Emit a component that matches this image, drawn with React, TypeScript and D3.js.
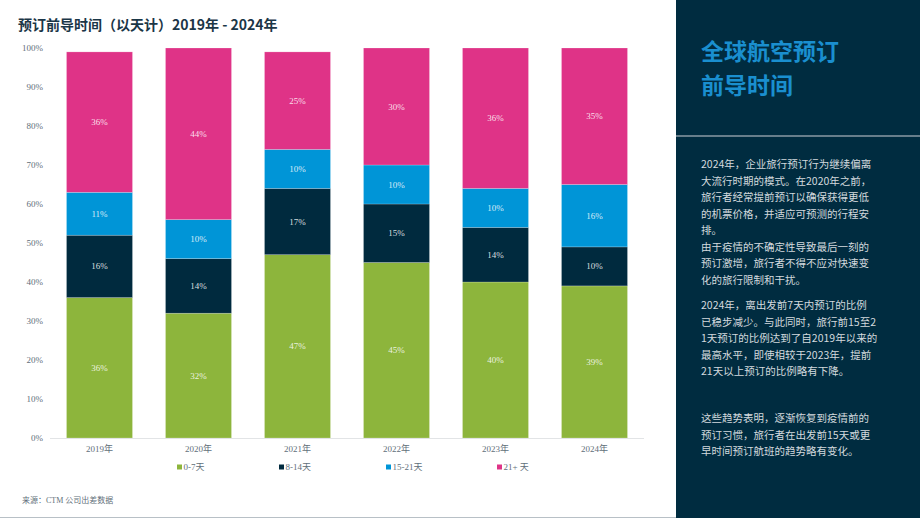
import React from "react";
import * as d3 from "d3";

const years = ["2019年", "2020年", "2021年", "2022年", "2023年", "2024年"];
const seriesNames = ["0-7天", "8-14天", "15-21天", "21+ 天"];
const s0to7 = [36, 32, 47, 45, 40, 39];
const s8to14 = [16, 14, 17, 15, 14, 10];
const s15to21 = [11, 10, 10, 10, 10, 16];
const s21plus = [36, 44, 25, 30, 36, 35];
const colors = ["#8db53c", "#002a3e", "#0095d7", "#df3387"];
const yTicks = [0, 10, 20, 30, 40, 50, 60, 70, 80, 90, 100];

const para1 = [
  "2024年，企业旅行预订行为继续偏离",
  "大流行时期的模式。在2020年之前，",
  "旅行者经常提前预订以确保获得更低",
  "的机票价格，并适应可预测的行程安",
  "排。",
  "由于疫情的不确定性导致最后一刻的",
  "预订激增，旅行者不得不应对快速变",
  "化的旅行限制和干扰。",
];
const para2 = [
  "2024年，离出发前7天内预订的比例",
  "已稳步减少。与此同时，旅行前15至2",
  "1天预订的比例达到了自2019年以来的",
  "最高水平，即使相较于2023年，提前",
  "21天以上预订的比例略有下降。",
];
const para3 = [
  "这些趋势表明，逐渐恢复到疫情前的",
  "预订习惯，旅行者在出发前15天或更",
  "早时间预订航班的趋势略有变化。",
];

export default function App() {
  const W = 920, H = 518;
  const x = d3.scaleBand<string>().domain(years).range([50, 644]).paddingInner(1 / 3).paddingOuter(1 / 6);
  const y = d3.scaleLinear().domain([0, 100]).range([438, 48]);
  const seriesData = [s0to7, s8to14, s15to21, s21plus];
  const table = years.map((yr, i) => {
    const o: any = { year: yr };
    seriesNames.forEach((n, k) => (o[n] = seriesData[k][i]));
    return o;
  });
  const stacked = d3.stack<any>().keys(seriesNames)(table);
  const serif = "'Liberation Serif', 'Noto Sans CJK SC', serif";
  const sans = "'Noto Sans CJK SC', 'Noto Sans', sans-serif";
  const legendX = [177, 279, 386, 497];
  const panelX = 676;
  const textX = 701;

  return (
    <svg width={W} height={H} style={{ position: "absolute", left: 0, top: 0, display: "block" }}>
      <rect x={0} y={0} width={W} height={H} fill="#ffffff" />
      <text x={18} y={30} fontFamily={sans} fontWeight={700} fontSize={14} fill="#1b3647">
        预订前导时间（以天计）2019年 - 2024年
      </text>
      {yTicks.map((t) => (
        <text key={t} x={43} y={y(t) + 3} textAnchor="end" fontFamily={serif} fontSize={9} fill="#5f6f7a">
          {t}%
        </text>
      ))}
      {stacked.map((layer, k) => (
        <g key={k}>
          {layer.map((d, i) => (
            <g key={i}>
              <rect
                x={x(years[i])}
                y={y(d[1])}
                width={x.bandwidth()}
                height={y(d[0]) - y(d[1])}
                fill={colors[k]}
                stroke="rgba(255,255,255,0.35)"
                strokeWidth={0.6}
              />
              <text
                x={(x(years[i]) as number) + x.bandwidth() / 2}
                y={(y(d[0]) + y(d[1])) / 2 + 3}
                textAnchor="middle"
                fontFamily={serif}
                fontSize={9}
                fill="rgba(255,255,255,0.85)"
              >
                {seriesData[k][i]}%
              </text>
            </g>
          ))}
        </g>
      ))}
      <line x1={50} x2={644} y1={438.5} y2={438.5} stroke="#e2e4e6" strokeWidth={1} />
      {years.map((yr) => (
        <text key={yr} x={(x(yr) as number) + x.bandwidth() / 2} y={452} textAnchor="middle" fontFamily={serif} fontSize={9} fill="#5f6f7a">
          {yr}
        </text>
      ))}
      {seriesNames.map((n, k) => (
        <g key={n}>
          <rect x={legendX[k]} y={464.5} width={5} height={5} fill={colors[k]} />
          <text x={legendX[k] + 6.5} y={470} fontFamily={serif} fontSize={9} fill="#5f6f7a">
            {n}
          </text>
        </g>
      ))}
      <text x={22} y={503} fontFamily={serif} fontSize={8} fill="#5f6f7a">
        来源：CTM 公司出差数据
      </text>
      <line x1={0} x2={W} y1={517.5} y2={517.5} stroke="#b8c0c6" strokeWidth={1} />

      <rect x={panelX} y={0} width={W - panelX} height={H} fill="#002c40" />
      <text x={textX} y={60} fontFamily={sans} fontWeight={700} fontSize={23} fill="#1a8fcf">
        全球航空预订
      </text>
      <text x={textX} y={94} fontFamily={sans} fontWeight={700} fontSize={23} fill="#1a8fcf">
        前导时间
      </text>
      <line x1={panelX} x2={W} y1={136} y2={136} stroke="#8a9aa4" strokeWidth={1.5} />
      {[
        { lines: para1, y0: 168 },
        { lines: para2, y0: 309 },
        { lines: para3, y0: 422 },
      ].map((p, pi) =>
        p.lines.map((l, li) => (
          <text key={pi + "-" + li} x={textX} y={p.y0 + li * 16.5} fontFamily={sans} fontSize={10.5} fill="#d3dade">
            {l}
          </text>
        ))
      )}
    </svg>
  );
}
